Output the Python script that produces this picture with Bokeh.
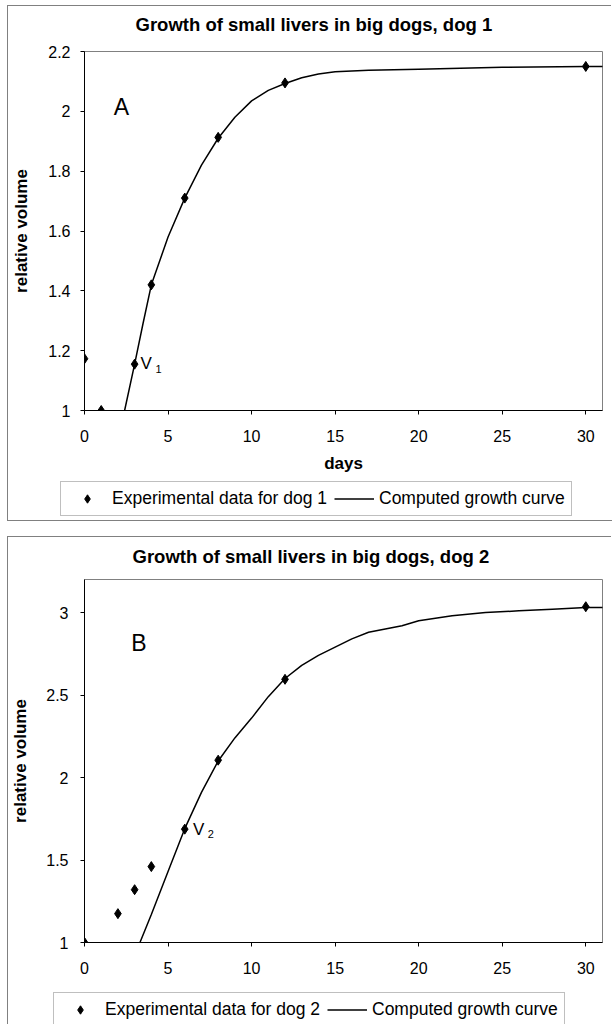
from bokeh.plotting import figure
from bokeh.models import (Range1d, FixedTicker, CustomJSTickFormatter, Label,
                          Legend, LegendItem, Title)
from bokeh.layouts import column
from bokeh.embed import file_html
from bokeh.resources import INLINE

# ---------------- data ----------------
x_ticks = [0, 5, 10, 15, 20, 25, 30]

dog1_days = [0, 1, 3, 4, 6, 8, 12, 30]
dog1_volume = [1.173, 1.0, 1.155, 1.42, 1.71, 1.913, 2.095, 2.15]
dog1_curve_days = [2.4, 3, 3.5, 4, 5, 6, 7, 8, 9, 10, 11, 12, 13, 14, 15, 17, 20, 25, 30, 31.5]
dog1_curve_volume = [1.0, 1.155, 1.29, 1.42, 1.58, 1.71, 1.82, 1.91, 1.98, 2.035, 2.07, 2.093,
                     2.112, 2.125, 2.132, 2.137, 2.141, 2.147, 2.15, 2.15]
dog1_y_ticks = [1, 1.2, 1.4, 1.6, 1.8, 2, 2.2]

dog2_days = [0, 2, 3, 4, 6, 8, 12, 30]
dog2_volume = [1.0, 1.175, 1.32, 1.46, 1.687, 2.105, 2.595, 3.035]
dog2_curve_days = [3.32, 4, 5, 6, 7, 8, 9, 10, 11, 12, 13, 14, 15, 16, 17, 18, 19, 20,
                   22, 24, 26, 28, 30, 31.5]
dog2_curve_volume = [1.0, 1.17, 1.43, 1.69, 1.91, 2.1, 2.24, 2.36, 2.49, 2.6, 2.68, 2.74,
                     2.79, 2.84, 2.88, 2.9, 2.92, 2.95, 2.98, 3.0, 3.01, 3.02, 3.03, 3.03]
dog2_y_ticks = [1, 1.5, 2, 2.5, 3]

FONT = "Liberation Sans"
GRAY = "#808080"
BORDER = "1px solid #808080"


def make_plot(days, vol, cdays, cvol, yticks, yr, title, title_offset, spacer, letter, letter_xy,
              vname, vsub, v_xy, sub_xy, width, height, borders, xlabel,
              ylab_standoff, ytick_standoff):
    bl, br, bt, bb = borders
    p = figure(width=width, height=height, x_range=Range1d(0, 31), y_range=Range1d(*yr),
               output_backend="svg", toolbar_location=None,
               min_border_left=bl, min_border_right=br, min_border_top=bt, min_border_bottom=bb)
    p.xgrid.visible = False
    p.ygrid.visible = False
    p.outline_line_color = GRAY
    p.outline_line_width = 1
    p.background_fill_color = "white"
    p.border_fill_color = "white"
    p.styles = {"border-left": BORDER, "border-top": BORDER}

    p.title.text = title
    p.title.align = "left"
    p.title.offset = title_offset
    p.title.text_font = FONT
    p.title.text_font_size = "18.5px"
    p.title.text_font_style = "bold"
    p.title.text_color = "black"
    p.title.standoff = 4
    p.add_layout(Title(text=" ", text_font_size="1px", standoff=spacer), "above")

    for ax in (p.xaxis[0], p.yaxis[0]):
        ax.axis_line_color = "black"
        ax.axis_line_width = 1
        ax.major_tick_line_color = "black"
        ax.major_tick_out = 4
        ax.major_tick_in = 0
        ax.minor_tick_line_color = None
        ax.major_label_text_font = FONT
        ax.major_label_text_font_size = "16px"
        ax.major_label_text_color = "black"
        ax.axis_label_text_font = FONT
        ax.axis_label_text_font_size = "17px"
        ax.axis_label_text_font_style = "bold"
        ax.axis_label_text_color = "black"
        ax.formatter = CustomJSTickFormatter(code="return (Math.round(tick*10)/10).toString();")

    p.xaxis[0].ticker = FixedTicker(ticks=x_ticks)
    p.yaxis[0].ticker = FixedTicker(ticks=yticks)
    p.xaxis[0].major_label_standoff = 15
    p.yaxis[0].major_label_standoff = ytick_standoff
    p.yaxis[0].axis_label = "relative volume"
    p.yaxis[0].axis_label_standoff = ylab_standoff
    if xlabel:
        p.xaxis[0].axis_label = xlabel
        p.xaxis[0].axis_label_standoff = 9

    p.line(cdays, cvol, line_color="black", line_width=1.5)
    p.scatter(days, vol, marker="diamond", size=10, fill_color="black", line_color="black")

    p.add_layout(Label(x=letter_xy[0], y=letter_xy[1], text=letter, text_baseline="alphabetic",
                       text_font=FONT, text_font_size="23px", text_color="black"))
    p.add_layout(Label(x=v_xy[0], y=v_xy[1], text=vname, text_baseline="alphabetic",
                       text_font=FONT, text_font_size="17px", text_color="black"))
    p.add_layout(Label(x=sub_xy[0], y=sub_xy[1], text=vsub, text_baseline="alphabetic",
                       text_font=FONT, text_font_size="11px", text_color="black"))
    return p


def make_legend(days, vol, cdays, cvol, label1, width, height, loc, css):
    # a strip that only holds the legend; its x range lies far from the data,
    # so the series drawn here (only to feed the legend) stay out of view
    lp = figure(frame_width=width, frame_height=height,
                x_range=Range1d(1000, 1000 + width), y_range=Range1d(0, height),
                output_backend="svg", toolbar_location=None,
                min_border_left=0, min_border_right=0, min_border_top=0, min_border_bottom=0,
                x_axis_type=None, y_axis_type=None)
    lp.xgrid.visible = False
    lp.ygrid.visible = False
    lp.outline_line_color = None
    lp.background_fill_color = "white"
    lp.border_fill_color = "white"
    lp.styles = css
    r_pts = lp.scatter(days, vol, marker="diamond", size=10, fill_color="black",
                       line_color="black")
    r_line = lp.line(cdays, cvol, line_color="black", line_width=1.5)
    legend = Legend(items=[LegendItem(label=label1, renderers=[r_pts]),
                           LegendItem(label="Computed growth curve", renderers=[r_line])],
                    location=loc, orientation="horizontal",
                    border_line_color=GRAY, border_line_width=1,
                    background_fill_color="white", background_fill_alpha=1.0,
                    padding=6, spacing=7, margin=0,
                    glyph_width=40, glyph_height=21, label_height=21, label_standoff=5,
                    label_text_font=FONT, label_text_font_size="17.5px",
                    label_text_color="black")
    lp.add_layout(legend)
    return lp


pA = make_plot(dog1_days, dog1_volume, dog1_curve_days, dog1_curve_volume, dog1_y_ticks,
               (1, 2.2), "Growth of small livers in big dogs, dog 1", 51, 12, "A", (1.75, 2.013),
               "V", "1", (3.35, 1.157), (4.25, 1.14),
               604, 469, (72, 10, 45, 64), "days", 14, 10)
legA = make_legend(dog1_days, dog1_volume, dog1_curve_days, dog1_curve_volume,
                   "Experimental data for dog 1", 604, 46, (52, 5),
                   {"border-left": BORDER, "border-bottom": BORDER})

pB = make_plot(dog2_days, dog2_volume, dog2_curve_days, dog2_curve_volume, dog2_y_ticks,
               (1, 3.2), "Growth of small livers in big dogs, dog 2", 48, 8, "B", (2.8, 2.816),
               "V", "2", (6.5, 1.686), (7.37, 1.658),
               604, 445, (68, 9, 42, 40), None, 13, 12)
pB.margin = (15, 0, 0, 0)
legB = make_legend(dog2_days, dog2_volume, dog2_curve_days, dog2_curve_volume,
                   "Experimental data for dog 2", 604, 43, (45, -3),
                   {"border-left": BORDER})

layout = column(pA, legA, pB, legB, spacing=0, margin=(5, 0, 0, 7))

open("out.html", "w").write(file_html(layout, INLINE))
